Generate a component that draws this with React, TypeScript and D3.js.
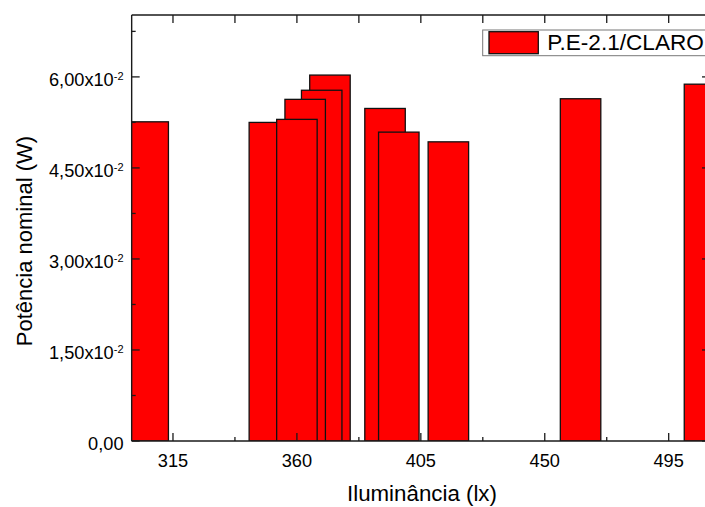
import React from "react";
import * as d3 from "d3";

const xValues = [306, 350, 372, 369, 363, 360, 392, 397, 415, 463, 508];
const yValues = [0.0526, 0.0525, 0.0603, 0.0578, 0.0563, 0.053, 0.0548, 0.0509, 0.0493, 0.0564, 0.0588];
const xMajorTicks = [315, 360, 405, 450, 495];
const xMinorTicks = [337.5, 382.5, 427.5, 472.5];
const yMajorTicks = [0, 0.015, 0.03, 0.045, 0.06];
const yMinorTicks = [0.0075, 0.0225, 0.0375, 0.0525, 0.0675];
const yTickMain = ["0,00", "1,50x10", "3,00x10", "4,50x10", "6,00x10"];
const yTickSup = ["", "-2", "-2", "-2", "-2"];
const seriesName = "P.E-2.1/CLARO";
const xTitle = "Iluminância (lx)";
const yTitle = "Potência nominal (W)";
const barWidthUnits = 14.7;

export default function App() {
  const L = 131.67, R = 710, T = 15, B = 441;
  const x = d3.scaleLinear().domain([300, 510]).range([L, R]);
  const y = d3.scaleLinear().domain([0, 0.0702]).range([B, T]);
  const font = "'Liberation Sans', Arial, sans-serif";
  const bw = x(300 + barWidthUnits) - x(300);
  const axisColor = "#1a1a1a";
  return (
    <svg width={705} height={507} style={{ position: "absolute", left: 0, top: 0 }} fontFamily={font}>
      <defs>
        <clipPath id="plotclip">
          <rect x={L} y={T} width={R - L} height={B - T} />
        </clipPath>
      </defs>
      <g clipPath="url(#plotclip)">
        {xValues.map((xv, i) => (
          <rect
            key={i}
            x={x(xv) - bw / 2}
            y={y(yValues[i])}
            width={bw}
            height={B - y(yValues[i])}
            fill="#ff0000"
            stroke="#111"
            strokeWidth={1.3}
          />
        ))}
      </g>
      <g stroke={axisColor} strokeWidth={1.4} fill="none">
        <line x1={L} x2={R} y1={B} y2={B} />
        <line x1={L} x2={R} y1={T} y2={T} />
        <line x1={L} x2={L} y1={T} y2={B} />
        <line x1={R} x2={R} y1={T} y2={B} />
      </g>
      <g stroke={axisColor} strokeWidth={1.3}>
        {xMajorTicks.map((t) => (
          <g key={"xm" + t}>
            <line x1={x(t)} x2={x(t)} y1={B} y2={B - 8} />
            <line x1={x(t)} x2={x(t)} y1={T} y2={T + 8} />
          </g>
        ))}
        {xMinorTicks.map((t) => (
          <g key={"xn" + t}>
            <line x1={x(t)} x2={x(t)} y1={B} y2={B - 4} />
            <line x1={x(t)} x2={x(t)} y1={T} y2={T + 8} />
          </g>
        ))}
        {yMajorTicks.map((t) => (
          <g key={"ym" + t}>
            <line x1={L} x2={L + 8} y1={y(t)} y2={y(t)} />
            <line x1={R} x2={R - 8} y1={y(t)} y2={y(t)} />
          </g>
        ))}
        {yMinorTicks.map((t) => (
          <g key={"yn" + t}>
            <line x1={L} x2={L + 4} y1={y(t)} y2={y(t)} />
            <line x1={R} x2={R - 4} y1={y(t)} y2={y(t)} />
          </g>
        ))}
      </g>
      <g fontSize={18.2} fill="#000">
        {xMajorTicks.map((t) => (
          <text key={"xl" + t} x={x(t)} y={467} textAnchor="middle">
            {t}
          </text>
        ))}
        {yMajorTicks.map((t, i) => (
          <text key={"yl" + t} x={123.5} y={y(t) + 9} textAnchor="end">
            {yTickMain[i]}
            {yTickSup[i] ? (
              <tspan fontSize={11} dy={-6}>
                {yTickSup[i]}
              </tspan>
            ) : null}
          </text>
        ))}
      </g>
      <text x={347} y={501} fontSize={22.3} fill="#000">
        {xTitle}
      </text>
      <text transform="translate(31.5,241) rotate(-90)" textAnchor="middle" fontSize={22} fill="#000">
        {yTitle}
      </text>
      <rect x={482.7} y={30} width={240} height={25.7} fill="#fff" stroke="#777" strokeWidth={1} />
      <rect x={489} y={31.7} width={49.3} height={22} fill="#ff0000" stroke="#111" strokeWidth={1.3} />
      <text x={547.3} y={50} fontSize={22.6} fill="#000">
        {seriesName}
      </text>
    </svg>
  );
}
